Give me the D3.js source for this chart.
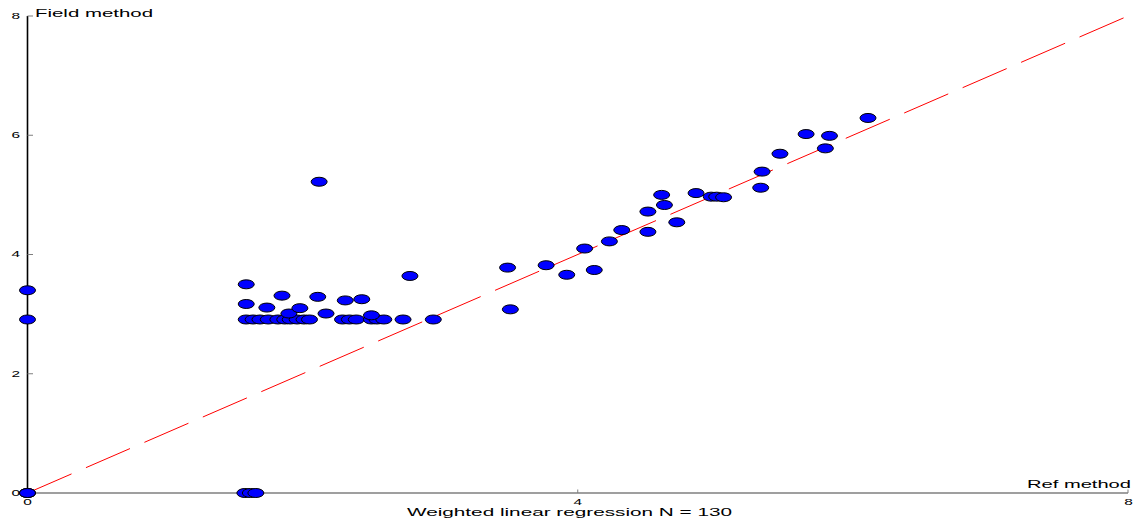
<!DOCTYPE html>
<html><head><meta charset="utf-8">
<script src="https://cdn.jsdelivr.net/npm/d3@7"></script>
<style>html,body{margin:0;padding:0;background:#fff;}svg{display:block;}</style>
</head><body>
<svg id="c" width="1133" height="523"></svg>
<script>
const refX = [0,0,0,0,0, 1.58,1.62,1.66,
  1.59,1.64,1.69,1.75,1.82,1.87,1.91,1.96,2.01,2.05,2.29,2.34,2.39,2.50,2.54,2.59,2.73,2.95,
  1.59,1.59,1.74,1.85,1.90,1.98,2.11,2.17,2.31,2.43,2.50,2.78,2.12,
  3.49,3.51,3.77,3.92,4.12,4.05,4.23,4.32,4.51,4.51,4.63,4.72,
  4.61,4.86,4.97,5.01,5.06,5.33,5.34,5.47,5.66,5.83,5.80,6.11];
const fieldY = [0,0,0,3.40,2.91, 0,0,0,
  2.91,2.91,2.91,2.91,2.91,2.91,2.91,2.91,2.91,2.91,2.91,2.91,2.91,2.91,2.91,2.91,2.91,2.91,
  3.50,3.17,3.11,3.31,3.01,3.10,3.29,3.01,3.23,3.25,2.98,3.64,5.22,
  3.78,3.08,3.82,3.66,3.74,4.10,4.22,4.41,4.38,4.72,4.83,4.54,
  5.00,5.03,4.97,4.97,4.96,5.12,5.39,5.69,6.02,5.99,5.78,6.29];
const xTicks = [0,4,8];
const yTicks = [0,2,4,6,8];
const identityLine = [[0,0],[8,8]];
const labels = {y:"Field method", x:"Ref method", title:"Weighted linear regression N = 130"};

const svg = d3.select("#c");
const x = d3.scaleLinear().domain([0,8]).range([27.5,1128]);
const y = d3.scaleLinear().domain([0,8]).range([493,16]);
const font = "'Liberation Sans', Arial, sans-serif";

// bottom axis (gray)
svg.append("line").attr("x1",x(0)).attr("x2",x(8)).attr("y1",y(0)).attr("y2",y(0))
  .attr("stroke","#7f7f7f").attr("stroke-width",1.6);
svg.selectAll(".xt").data(xTicks).enter().append("line")
  .attr("x1",d=>x(d)).attr("x2",d=>x(d)).attr("y1",y(0)).attr("y2",y(0)-3.5)
  .attr("stroke","#7f7f7f").attr("stroke-width",1);
svg.selectAll(".xl").data(xTicks).enter().append("text")
  .attr("x",d=>x(d)+(d===8?0.5:0)-4.3).attr("y",504.5)
  .attr("font-family",font).attr("font-size",8.8).attr("fill","#000")
  .attr("textLength",8.6).attr("lengthAdjust","spacingAndGlyphs").text(d=>d);

// left axis (black)
svg.append("line").attr("x1",x(0)).attr("x2",x(0)).attr("y1",y(0)).attr("y2",y(8))
  .attr("stroke","#000").attr("stroke-width",1.6);
svg.selectAll(".yt").data(yTicks).enter().append("line")
  .attr("x1",x(0)).attr("x2",x(0)+5.5).attr("y1",d=>y(d)).attr("y2",d=>y(d))
  .attr("stroke","#7f7f7f").attr("stroke-width",1);
svg.selectAll(".yl").data(yTicks).enter().append("text")
  .attr("x",11.5).attr("y",d=>y(d)+2.8)
  .attr("font-family",font).attr("font-size",8.8).attr("fill","#000")
  .attr("textLength",8.6).attr("lengthAdjust","spacingAndGlyphs").text(d=>d);

// identity dashed line
svg.append("line")
  .attr("x1",x(identityLine[0][0])).attr("y1",y(identityLine[0][1]))
  .attr("x2",x(identityLine[1][0])).attr("y2",y(identityLine[1][1]))
  .attr("stroke","#ff0000").attr("stroke-width",1)
  .attr("stroke-dasharray","48,15.7");

// points
svg.selectAll(".pt").data(refX.map((v,i)=>[v,fieldY[i]])).enter().append("ellipse")
  .attr("cx",d=>x(d[0])).attr("cy",d=>y(d[1]))
  .attr("rx",8).attr("ry",4.5)
  .attr("fill","#0000ff").attr("stroke","#000").attr("stroke-width",1);

// labels
svg.append("text").attr("x",35).attr("y",17).attr("font-family",font).attr("font-size",10)
  .attr("textLength",118).attr("lengthAdjust","spacingAndGlyphs").text(labels.y);
svg.append("text").attr("x",1027).attr("y",488).attr("font-family",font).attr("font-size",10)
  .attr("textLength",104).attr("lengthAdjust","spacingAndGlyphs").text(labels.x);
svg.append("text").attr("x",407).attr("y",516).attr("font-family",font).attr("font-size",10)
  .attr("textLength",325).attr("lengthAdjust","spacingAndGlyphs").text(labels.title);
</script>
</body></html>
